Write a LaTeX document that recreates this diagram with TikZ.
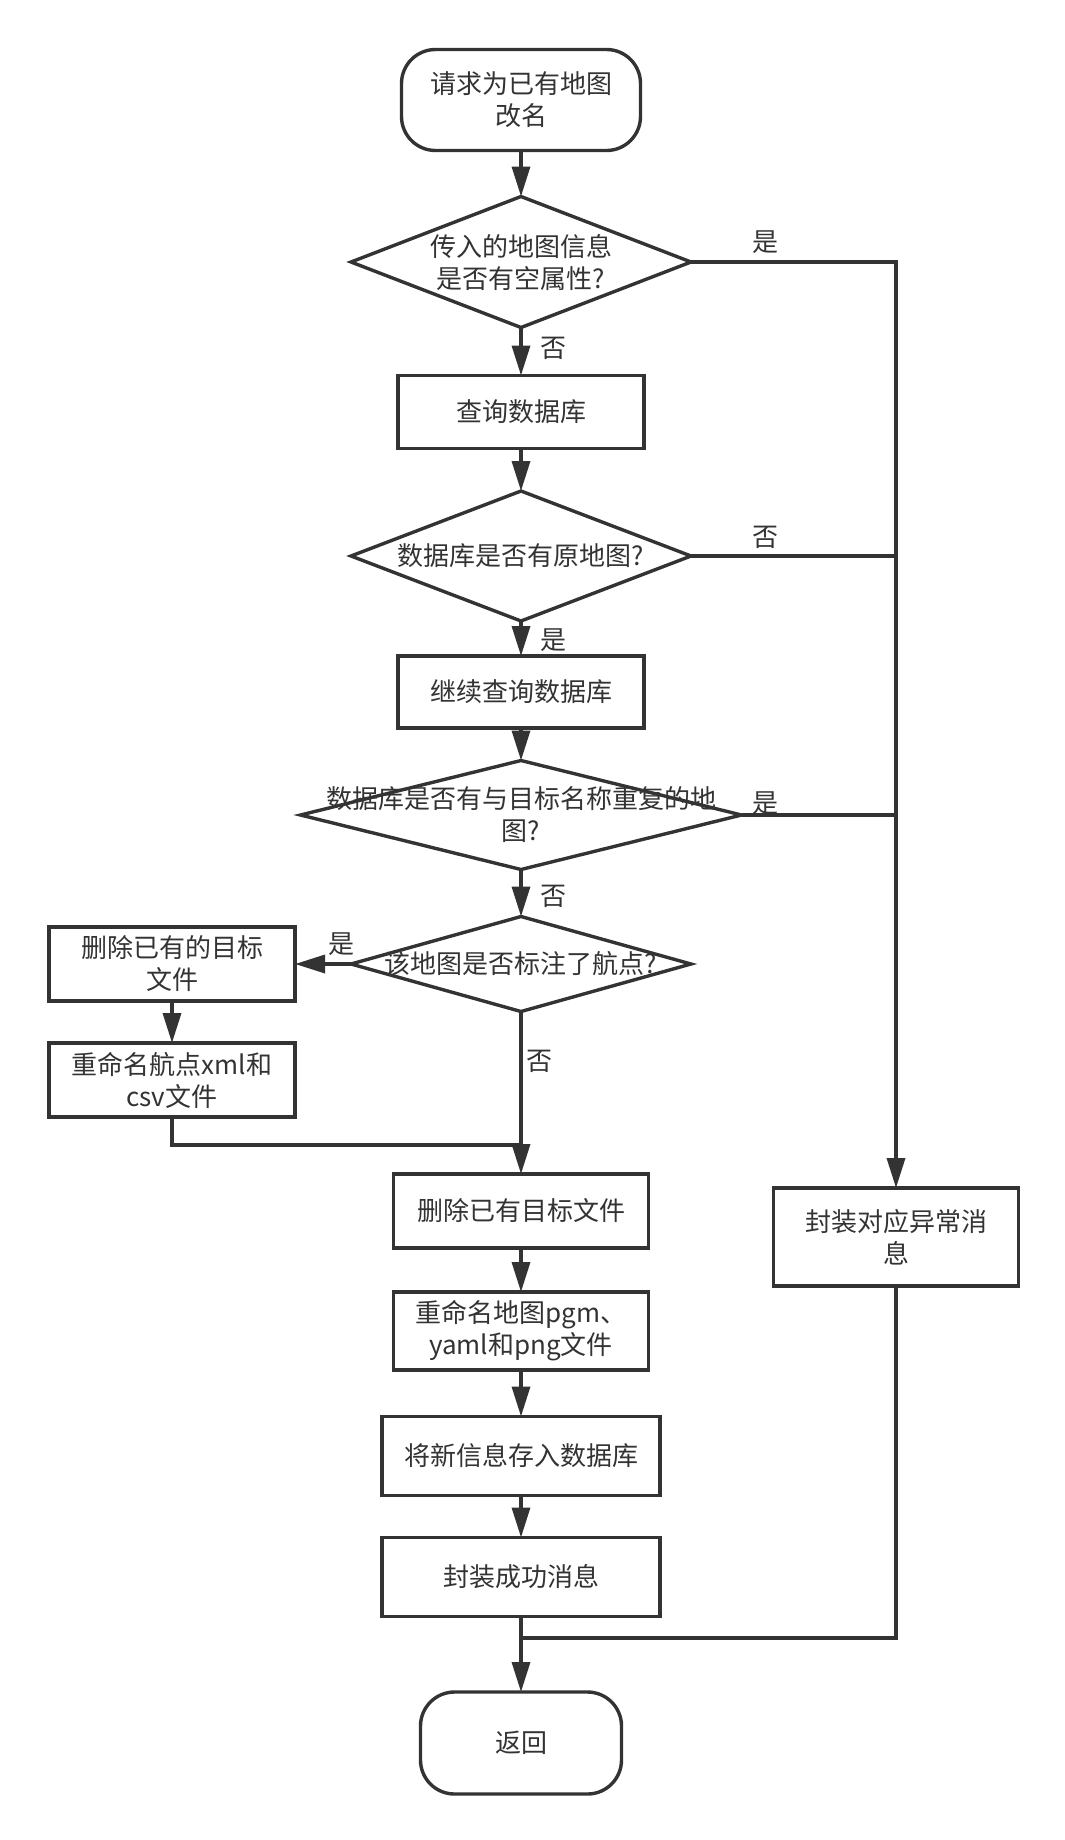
\documentclass[tikz,border=0pt]{standalone}
\usepackage{fontspec}
\setmainfont{Noto Sans CJK SC}
\usetikzlibrary{shapes.geometric,arrows.meta}
\definecolor{ink}{HTML}{333333}
\begin{document}
\begin{tikzpicture}[x=1pt,y=-1pt,
  every node/.style={font=\fontsize{26}{32}\selectfont, text=ink},
  base/.style={draw=ink, line width=3.4pt, inner sep=0pt, outer sep=0pt, align=center},
  procbox/.style={base, rectangle},
  termbox/.style={base, rectangle, rounded corners=34pt},
  decbox/.style={base, diamond},
  ln/.style={draw=ink, line width=3.4pt},
  arr/.style={ln, -{Triangle[length=30pt,width=18pt]}},
  lab/.style={inner sep=0pt}]
\useasboundingbox (0,0) rectangle (1065,1840);

\node[termbox, minimum width=239pt, minimum height=101pt] (start) at (521,100) {请求为已有地图\\改名};
\node[decbox, minimum width=340pt, minimum height=131pt,
  label={[align=center]center:传入的地图信息\\是否有空属性?}] (d1) at (521,262) {};
\node[procbox, minimum width=246pt, minimum height=73pt] (b1) at (521,412) {查询数据库};
\node[decbox, minimum width=340pt, minimum height=130pt,
  label={[align=center]center:数据库是否有原地图?}] (d2) at (521,556) {};
\node[procbox, minimum width=246pt, minimum height=72pt] (b2) at (521,692) {继续查询数据库};
\node[decbox, minimum width=441pt, minimum height=109pt,
  label={[align=center]center:数据库是否有与目标名称重复的地\\图?}] (d3) at (521,815) {};
\node[decbox, minimum width=340pt, minimum height=95pt,
  label={[align=center]center:该地图是否标注了航点?}] (d4) at (521,964) {};
\node[procbox, minimum width=246pt, minimum height=74pt] (bl1) at (172,964) {删除已有的目标\\文件};
\node[procbox, minimum width=246pt, minimum height=74pt] (bl2) at (172,1080) {重命名航点xml和\\csv文件};
\node[procbox, minimum width=255pt, minimum height=74pt] (b3) at (521,1211) {删除已有目标文件};
\node[procbox, minimum width=245pt, minimum height=98pt] (err) at (896,1237) {封装对应异常消\\息};
\node[procbox, minimum width=255pt, minimum height=78pt] (b4) at (521,1331) {重命名地图pgm、\\yaml和png文件};
\node[procbox, minimum width=278pt, minimum height=79pt] (b5) at (521,1456) {将新信息存入数据库};
\node[procbox, minimum width=278pt, minimum height=79pt] (b6) at (521,1577) {封装成功消息};
\node[termbox, minimum width=201pt, minimum height=102pt] (end) at (521,1743) {返回};

\coordinate (r1) at (896,262);
\coordinate (r2) at (896,556);
\coordinate (r3) at (896,815);
\coordinate (m1) at (521,1145);
\coordinate (m2) at (521,1638);

\draw[arr] (start.south) -- (d1.north);
\draw[arr] (d1.south) -- (b1.north);
\draw[arr] (b1.south) -- (d2.north);
\draw[arr] (d2.south) -- (b2.north);
\draw[arr] (b2.south) -- (d3.north);
\draw[arr] (d3.south) -- (d4.north);
\draw[arr] (d4.west) -- (bl1.east);
\draw[arr] (bl1.south) -- (bl2.north);
\draw[arr] (d4.south) -- (b3.north);
\draw[ln] (bl2.south) |- (m1);
\draw[arr] (d1.east) -- (r1) -- (err.north);
\draw[ln] (d2.east) -- (r2);
\draw[ln] (d3.east) -- (r3);
\draw[arr] (b3.south) -- (b4.north);
\draw[arr] (b4.south) -- (b5.north);
\draw[arr] (b5.south) -- (b6.north);
\draw[ln] (err.south) |- (m2);
\draw[arr] (b6.south) -- (end.north);

\node[lab] (l1) at (765,242) {是};
\node[lab] (l2) at (553,348) {否};
\node[lab] (l3) at (765,537) {否};
\node[lab] (l4) at (553,640) {是};
\node[lab] (l5) at (765,803) {是};
\node[lab] (l6) at (553,896) {否};
\node[lab] (l7) at (341,944) {是};
\node[lab] (l8) at (539,1061) {否};
\end{tikzpicture}
\end{document}
